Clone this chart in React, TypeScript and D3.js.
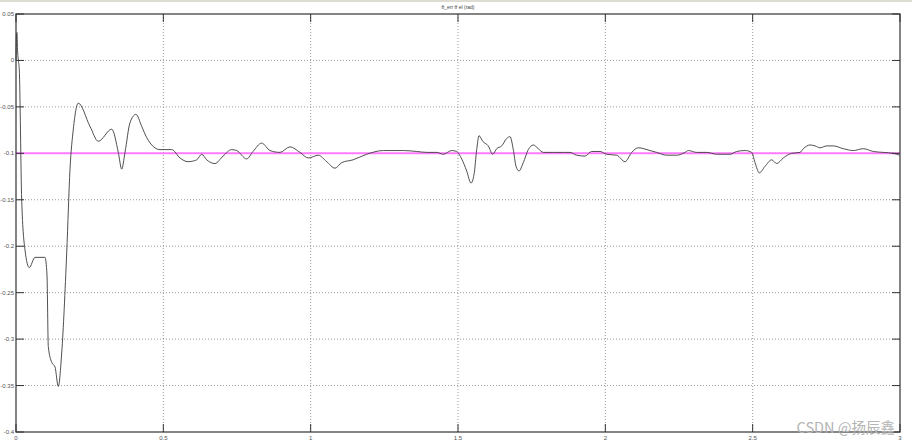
import * as d3 from "d3";

const W = 912;
const H = 446;

// time (s) and error (rad)
const timeS = [
  0, 0.0017, 0.0034, 0.0051, 0.0085, 0.0112, 0.0193, 0.0305, 0.0451, 0.0645,
  0.0984, 0.1052, 0.1096, 0.1212, 0.1324, 0.1435, 0.1551, 0.1721, 0.1833, 0.1945,
  0.2114, 0.2511, 0.2793, 0.3248, 0.3472, 0.3587, 0.3699, 0.3869, 0.4072, 0.4266,
  0.4435, 0.4887, 0.5284, 0.5566, 0.5837, 0.6132, 0.6302, 0.6472, 0.6753, 0.7025,
  0.732, 0.749, 0.7829, 0.8043, 0.8338, 0.862, 0.8959, 0.9299, 0.9638, 0.992,
  1.0259, 1.0545, 1.0826, 1.1053, 1.1437, 1.1901, 1.2465, 1.3144, 1.3598, 1.3938,
  1.4277, 1.4501, 1.4786, 1.4956, 1.5126, 1.5295, 1.5441, 1.5543, 1.5635, 1.5713,
  1.5838, 1.6028, 1.6178, 1.6313, 1.6483, 1.6652, 1.6765, 1.6877, 1.6969, 1.707,
  1.7216, 1.7386, 1.7555, 1.7725, 1.7895, 1.8234, 1.8573, 1.8801, 1.9028, 1.931,
  1.9537, 1.9819, 2.0046, 2.0386, 2.0667, 2.0895, 2.1119, 2.1516, 2.1743, 2.2083,
  2.2422, 2.2704, 2.2816, 2.3101, 2.344, 2.3779, 2.4231, 2.4459, 2.474, 2.4968,
  2.508, 2.5225, 2.5419, 2.5646, 2.5816, 2.604, 2.6325, 2.6607, 2.6719, 2.6946,
  2.7116, 2.7285, 2.7513, 2.7736, 2.8075, 2.8415, 2.8754, 2.9093, 2.9433, 2.9772,
  2.9976,
];
const errorRad = [
  0, 0.028, 0.03, 0.012, -0.001, -0.01, -0.15, -0.204, -0.223, -0.212,
  -0.212, -0.231, -0.308, -0.325, -0.33, -0.351, -0.315, -0.207, -0.117, -0.074,
  -0.046, -0.071, -0.087, -0.074, -0.099, -0.117, -0.099, -0.067, -0.058, -0.071,
  -0.083, -0.096, -0.096, -0.105, -0.109, -0.107, -0.101, -0.107, -0.111, -0.103,
  -0.096, -0.097, -0.106, -0.098, -0.089, -0.097, -0.099, -0.093, -0.099, -0.105,
  -0.102, -0.109, -0.116, -0.11, -0.107, -0.101, -0.097, -0.097, -0.098, -0.099,
  -0.099, -0.101, -0.097, -0.098, -0.106, -0.119, -0.132, -0.123, -0.096, -0.081,
  -0.087, -0.092, -0.101, -0.095, -0.092, -0.084, -0.082, -0.096, -0.114, -0.119,
  -0.11, -0.096, -0.091, -0.095, -0.099, -0.099, -0.099, -0.099, -0.102, -0.103,
  -0.098, -0.098, -0.101, -0.102, -0.109, -0.099, -0.094, -0.097, -0.099, -0.102,
  -0.102, -0.099, -0.097, -0.099, -0.099, -0.101, -0.101, -0.098, -0.097, -0.099,
  -0.11, -0.121, -0.114, -0.107, -0.111, -0.105, -0.1, -0.099, -0.095, -0.091,
  -0.092, -0.094, -0.092, -0.092, -0.095, -0.097, -0.095, -0.098, -0.099, -0.1,
  -0.102,
];
const reference = -0.1;

const xTicks = [0, 0.5, 1, 1.5, 2, 2.5, 3];
const xTickLabels = ["0", "0.5", "1", "1.5", "2", "2.5", "3"];
const yTicks = [0.05, 0, -0.05, -0.1, -0.15, -0.2, -0.25, -0.3, -0.35, -0.4];
const yTickLabels = ["0.05", "0", "-0.05", "-0.1", "-0.15", "-0.2", "-0.25", "-0.3", "-0.35", "-0.4"];

const margin = { top: 14, right: 12, bottom: 14, left: 16 };

export default function App() {
  const x = d3.scaleLinear([0, 3], [margin.left, W - margin.right]);
  const y = d3.scaleLinear([-0.4, 0.05], [H - margin.bottom, margin.top]);
  const pts = timeS.map((t, i) => [t, errorRad[i]] as [number, number]);
  const line = d3
    .line<[number, number]>()
    .x((d) => x(d[0]))
    .y((d) => y(d[1]))
    .curve(d3.curveMonotoneX);
  const x0 = x(0);
  const x1 = x(3);
  const y0 = y(-0.4);
  const y1 = y(0.05);
  const tickLen = 8;

  return (
    <svg
      width={W}
      height={H}
      style={{ position: "absolute", left: 0, top: 0, background: "#fff" }}
      fontFamily="Liberation Sans, Arial, sans-serif"
    >
      <rect x={0} y={0} width={W} height={2} fill="#dcdcd2" />
      <text x={(x0 + x1) / 2} y={9} fontSize={5} fill="#444" textAnchor="middle">
        θ_err θ el (rad)
      </text>
      {/* grid */}
      {xTicks.slice(1, -1).map((t) => (
        <line key={"gx" + t} x1={x(t)} x2={x(t)} y1={y1} y2={y0} stroke="#999" strokeWidth={1} strokeDasharray="1,2" />
      ))}
      {yTicks.slice(1, -1).map((t) => (
        <line key={"gy" + t} x1={x0} x2={x1} y1={y(t)} y2={y(t)} stroke="#999" strokeWidth={1} strokeDasharray="1,2" />
      ))}
      <line x1={x0} x2={x1} y1={y(reference)} y2={y(reference)} stroke="#ff7cff" strokeWidth={2} />
      <path d={line(pts) ?? ""} fill="none" stroke="#3c3c3c" strokeWidth={0.9} />
      {/* box + ticks */}
      <rect x={x0} y={y1} width={x1 - x0} height={y0 - y1} fill="none" stroke="#333" strokeWidth={1.2} />
      {xTicks.map((t, i) => (
        <g key={"tx" + t}>
          <line x1={x(t)} x2={x(t)} y1={y0} y2={y0 - tickLen} stroke="#333" />
          <line x1={x(t)} x2={x(t)} y1={y1} y2={y1 + tickLen} stroke="#333" />
          <text x={x(t)} y={y0 + 8} fontSize={6} fill="#555" textAnchor="middle">
            {xTickLabels[i]}
          </text>
        </g>
      ))}
      {yTicks.map((t, i) => (
        <g key={"ty" + t}>
          <line x1={x0} x2={x0 + tickLen} y1={y(t)} y2={y(t)} stroke="#333" />
          <line x1={x1} x2={x1 - tickLen} y1={y(t)} y2={y(t)} stroke="#333" />
          <text x={x0 - 2} y={y(t) + 2} fontSize={6} fill="#555" textAnchor="end">
            {yTickLabels[i]}
          </text>
        </g>
      ))}
      <text x={895} y={433} fontSize={14.5} fill="#b4b4b4" textAnchor="end" fontFamily="Noto Sans CJK SC, sans-serif">
        CSDN @扬辰鑫
      </text>
    </svg>
  );
}
